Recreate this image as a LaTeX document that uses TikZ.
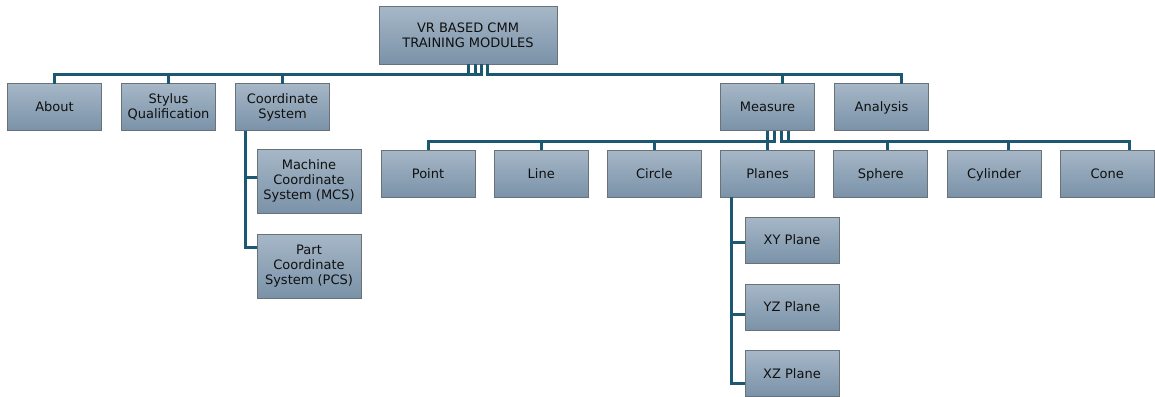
\documentclass[tikz,border=0pt]{standalone}
\usepackage{fontspec}
\setmainfont{DejaVu Sans}
\usetikzlibrary{positioning}
\definecolor{boxtop}{HTML}{A6B7C7}
\definecolor{boxbot}{HTML}{7A92A8}
\definecolor{boxedge}{HTML}{6A7279}
\definecolor{linkblue}{HTML}{1D5873}
\definecolor{boxtext}{HTML}{101010}

\begin{document}
\begin{tikzpicture}[
    x=1pt, y=-1pt,
    node distance=19.2pt,
    module/.style={draw=boxedge, line width=1pt, top color=boxtop, bottom color=boxbot, outer sep=0pt,
        minimum width=94pt, minimum height=47pt, align=center, inner sep=1pt, text=boxtext,
        font=\fontsize{13}{15}\selectfont},
    oneline/.style={module, text height=9.5pt, text depth=0pt},
    link/.style={draw=linkblue, line width=3pt}
]
\useasboundingbox (0,0) rectangle (1155,396);

\node[module, minimum width=178pt, minimum height=57pt] (root) at (468,35.5) {VR BASED CMM\\TRAINING MODULES};

\node[oneline] (about) at (54.5,107) {About};
\node[module, right=20pt of about] (stylus) {Stylus\\Qualification};
\node[module, right=20pt of stylus] (coord) {Coordinate\\System};
\node[oneline] (measure) at (767.5,107) {Measure};
\node[oneline, right=20pt of measure] (analysis) {Analysis};

\node[module, minimum width=104pt, minimum height=64pt] (mcs) at (309,181) {Machine\\Coordinate\\System (MCS)};
\node[module, minimum width=104pt, minimum height=64pt, below=21pt of mcs] (pcs) {Part\\Coordinate\\System (PCS)};

\node[oneline] (point) at (428,173.5) {Point};
\node[oneline, right=of point] (line) {Line};
\node[oneline, right=of line] (circle) {Circle};
\node[oneline, right=of circle] (planes) {Planes};
\node[oneline, right=of planes] (sphere) {Sphere};
\node[oneline, right=of sphere] (cylinder) {Cylinder};
\node[oneline, right=of cylinder] (cone) {Cone};

\node[oneline, minimum height=46pt] (xy) at (792,240) {XY Plane};
\node[oneline, minimum height=46pt, below=21pt of xy] (yz) {YZ Plane};
\node[oneline, minimum height=46pt, below=20.5pt of yz] (xz) {XZ Plane};

\foreach \kid/\s/\e in {about/0/0, stylus/7/0, coord/13/0, measure/19/14.5, analysis/19/20}
    \draw[link] ([xshift=\s pt]root.south) -- ++(0,10) -| ([xshift=\e pt]\kid.north);

\foreach \kid/\s/\e in {point/0/0, line/0/0, circle/6.5/0, planes/0/0, sphere/14/7, cylinder/21/14, cone/21/22}
    \draw[link] ([xshift=\s pt]measure.south) -- ++(0,11) -| ([xshift=\e pt]\kid.north);

\draw[link] ([xshift=-37.5pt]coord.south) |- ([yshift=4pt]mcs.west);
\draw[link] ([xshift=-37.5pt]coord.south) |- ([yshift=19pt]pcs.west);

\draw[link] ([xshift=-36pt]planes.south) |- ([yshift=-2pt]xy.west);
\draw[link] ([xshift=-36pt]planes.south) |- ([yshift=-7pt]yz.west);
\draw[link] ([xshift=-36pt]planes.south) |- ([yshift=-10pt]xz.west);
\end{tikzpicture}
\end{document}
